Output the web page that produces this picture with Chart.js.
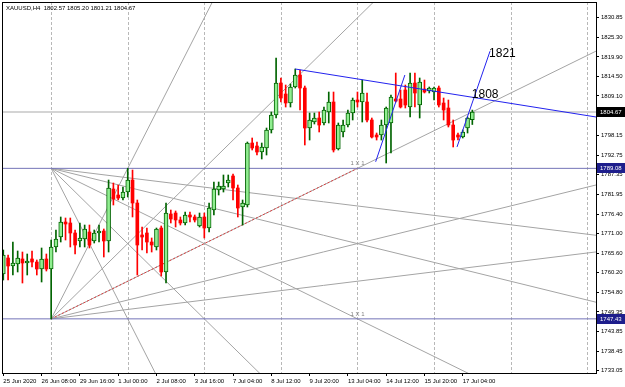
<!DOCTYPE html>
<html>
<head>
<meta charset="utf-8">
<script src="https://cdn.jsdelivr.net/npm/chart.js@4.4.1/dist/chart.umd.min.js"></script>
<style>
  html, body { margin: 0; padding: 0; background: #fff; }
</style>
</head>
<body>
<canvas id="chart" width="625" height="387"></canvas>
<script>
// XAUUSD H4, 25 Jun - 17 Jul 2020 (bar index 0 = 25 Jun 00:00)
const opens = [
  1759.84, 1764.27, 1762.06, 1762.61, 1764.00, 1762.89, 1764.00, 1763.16, 1761.23, 1764.00,
  1761.23, 1767.32, 1770.08, 1774.23, 1773.96, 1771.19, 1768.98, 1769.53, 1771.47, 1768.98,
  1771.19, 1771.74, 1768.98, 1783.36, 1781.70, 1780.87, 1782.53, 1785.85, 1779.49, 1770.64,
  1771.19, 1768.70, 1767.32, 1772.57, 1760.40, 1776.45, 1776.72, 1774.79, 1773.96, 1776.17,
  1775.62, 1773.13, 1775.62, 1772.57, 1777.55, 1783.09, 1783.36, 1785.02, 1786.96, 1783.64,
  1778.38, 1778.94, 1796.09, 1795.26, 1793.60, 1794.71, 1799.69, 1803.84, 1812.69, 1809.65,
  1807.16, 1811.59, 1814.91, 1811.31, 1800.24, 1801.90, 1803.01, 1801.63, 1804.67, 1807.44,
  1794.43, 1799.14, 1801.07, 1804.39, 1807.99, 1807.44, 1807.44, 1802.46, 1798.31, 1798.31,
  1801.07, 1801.63, 1808.27, 1808.27, 1810.76, 1806.05, 1812.69, 1806.61, 1811.03, 1810.48,
  1810.20, 1811.31, 1807.16, 1805.78, 1801.07, 1798.31, 1797.75, 1800.24, 1802.57
];
const highs = [
  1766.49, 1765.10, 1768.70, 1766.21, 1765.93, 1765.38, 1766.21, 1763.72, 1767.04, 1765.38,
  1769.25, 1772.02, 1775.62, 1775.34, 1775.34, 1772.02, 1773.96, 1773.40, 1773.40, 1772.02,
  1773.40, 1772.30, 1785.85, 1785.02, 1784.47, 1783.92, 1789.08, 1788.62, 1780.32, 1772.85,
  1772.57, 1769.81, 1772.57, 1773.13, 1779.49, 1777.55, 1777.28, 1775.62, 1777.00, 1777.00,
  1776.17, 1776.72, 1776.72, 1779.49, 1785.30, 1785.30, 1787.24, 1787.24, 1787.51, 1784.47,
  1780.32, 1796.37, 1797.48, 1796.37, 1796.09, 1800.24, 1804.67, 1819.61, 1814.08, 1812.14,
  1812.42, 1816.57, 1816.29, 1811.86, 1804.39, 1804.39, 1804.67, 1806.05, 1810.20, 1810.20,
  1801.63, 1802.46, 1805.22, 1808.54, 1810.20, 1813.52, 1809.93, 1803.01, 1798.86, 1802.46,
  1806.05, 1809.37, 1815.46, 1810.76, 1812.14, 1815.46, 1815.46, 1814.08, 1813.52, 1811.59,
  1811.59, 1811.86, 1808.54, 1807.99, 1802.46, 1798.86, 1799.69, 1803.29, 1805.20
];
const lows = [
  1758.18, 1758.18, 1759.57, 1760.40, 1757.35, 1759.57, 1761.78, 1759.57, 1757.63, 1760.67,
  1747.43, 1765.93, 1768.70, 1769.25, 1767.32, 1765.38, 1767.32, 1767.32, 1767.04, 1768.42,
  1768.70, 1764.55, 1765.93, 1778.94, 1780.32, 1780.32, 1781.15, 1775.62, 1759.57, 1766.49,
  1765.66, 1765.93, 1766.49, 1759.29, 1757.35, 1773.96, 1772.85, 1773.40, 1773.40, 1774.23,
  1774.23, 1772.85, 1769.81, 1771.47, 1776.17, 1781.70, 1782.53, 1783.92, 1780.32, 1775.62,
  1773.40, 1778.38, 1794.16, 1792.77, 1791.67, 1792.77, 1798.86, 1803.01, 1807.44, 1806.05,
  1806.05, 1811.31, 1805.22, 1795.54, 1796.92, 1801.35, 1799.14, 1801.07, 1801.63, 1793.60,
  1794.16, 1797.75, 1800.52, 1802.46, 1806.05, 1801.90, 1801.90, 1797.48, 1796.92, 1796.92,
  1790.56, 1793.33, 1807.44, 1805.78, 1805.78, 1803.29, 1806.05, 1803.01, 1809.93, 1809.93,
  1807.99, 1806.05, 1802.46, 1800.52, 1794.99, 1796.92, 1797.48, 1798.86, 1801.21
];
const closes = [
  1765.10, 1762.06, 1762.89, 1764.27, 1762.89, 1763.44, 1763.16, 1761.23, 1764.00, 1761.23,
  1767.32, 1769.53, 1774.23, 1773.68, 1771.19, 1767.87, 1769.81, 1772.30, 1767.87, 1771.19,
  1771.74, 1768.98, 1783.64, 1780.60, 1780.87, 1782.53, 1785.85, 1779.49, 1767.87, 1770.08,
  1768.70, 1767.87, 1772.30, 1760.40, 1776.72, 1775.06, 1774.79, 1773.96, 1776.17, 1775.62,
  1774.79, 1775.62, 1772.57, 1778.11, 1783.36, 1784.19, 1784.19, 1785.85, 1783.64, 1778.11,
  1779.49, 1796.09, 1794.71, 1793.60, 1794.99, 1799.69, 1803.84, 1812.69, 1808.54, 1807.16,
  1811.59, 1814.91, 1811.31, 1800.24, 1802.46, 1803.01, 1801.07, 1805.22, 1807.44, 1794.16,
  1801.07, 1801.07, 1804.39, 1807.99, 1807.44, 1809.93, 1802.46, 1797.75, 1797.75, 1801.07,
  1805.78, 1808.82, 1807.71, 1806.05, 1806.61, 1812.69, 1809.93, 1812.97, 1810.20, 1811.31,
  1811.31, 1806.61, 1805.22, 1801.07, 1796.92, 1797.75, 1799.14, 1803.01, 1804.67
];

const timeLabels = ["25 Jun 2020", "26 Jun 08:00", "29 Jun 16:00", "1 Jul 00:00", "2 Jul 08:00",
  "3 Jul 16:00", "7 Jul 04:00", "8 Jul 12:00", "9 Jul 20:00", "13 Jul 04:00", "14 Jul 12:00",
  "15 Jul 20:00", "17 Jul 04:00"];
const timeLabelBars = [0, 8, 16, 24, 32, 40, 48, 56, 64, 72, 80, 88, 96];
const gridBars = [10, 26, 42, 58, 74, 90, 106, 122];
const priceTicks = [1830.85, 1825.30, 1819.90, 1814.50, 1809.10, 1803.70, 1798.15, 1792.75,
  1787.35, 1781.95, 1776.40, 1771.00, 1765.60, 1760.20, 1754.80, 1749.35, 1743.85, 1738.45, 1733.05];

const levelHigh = 1789.08;
const levelLow = 1747.43;
const lastPrice = 1804.67;

// gann fans: [bar, price] of the two anchors, 1x1 goes through both
const fanUp = [[10, 1747.43], [74, 1789.08]];
const fanDown = [[10, 1789.08], [74, 1747.43]];
const gannRatios = [1 / 4, 1 / 2, 1, 2, 4];

// blue hand drawn lines
const trendLine = [[61, 1816.57], [123.84, 1803.29]];
const stepLine1 = [[77.8, 1790.9], [83.9, 1814.9]];
const stepLine2 = [[94.8, 1795.0], [101.7, 1821.5]];

const notes = [
  { text: "1821", bar: 101.5, price: 1820.7 },
  { text: "1808", bar: 97.9, price: 1809.4 }
];

const xMin = -0.272, xMax = 123.84;
const font = '"Liberation Sans", Arial, sans-serif';

let lineDs = (pts, color, width, order, dash) => ({
  type: "line",
  data: pts.map(([x, y]) => ({ x, y })),
  borderColor: color,
  borderWidth: width,
  borderDash: dash || [],
  pointRadius: 0,
  tension: 0,
  fill: false,
  order
});

let isUp = (i) => closes[i] >= opens[i];

let bullBodies = [], bearBodies = [], wicks = [];
opens.forEach((o, i) => {
  wicks.push({ x: i, y: [lows[i], highs[i]] });
  (isUp(i) ? bullBodies : bearBodies).push({ x: i, y: [o, closes[i]] });
});

let datasets = [];

[fanUp, fanDown].forEach((anchors) => {
  const [[b0, p0], [b1, p1]] = anchors;
  const k = (p1 - p0) / (b1 - b0);
  gannRatios.forEach((r) => {
    datasets.push(lineDs([[b0, p0], [xMax, p0 + k * r * (xMax - b0)]], "#a4a4a4", 1, 10));
  });
});
datasets.push(lineDs(fanUp, "#e03c3c", 1, 9, [2, 2]));

datasets.push(lineDs([[xMin, lastPrice], [xMax, lastPrice]], "#d4d4d4", 2, 11));
datasets.push(lineDs([[xMin, levelHigh], [xMax, levelHigh]], "#7474b8", 1, 8));
datasets.push(lineDs([[xMin, levelLow], [xMax, levelLow]], "#7474b8", 1, 8));

datasets.push({
  type: "bar", data: wicks, barThickness: 1, grouped: false, order: 6,
  backgroundColor: (ctx) => isUp(ctx.dataIndex) ? "#006400" : "#ff0000",
  borderWidth: 0
});
datasets.push({
  type: "bar", data: bearBodies, barThickness: 3, grouped: false, order: 5,
  backgroundColor: "#ff0000", borderWidth: 0
});
datasets.push({
  type: "bar", data: bullBodies, barThickness: 4, grouped: false, order: 5,
  backgroundColor: "#90ee90", borderColor: "#006400", borderWidth: 1, borderSkipped: false
});

datasets.push(lineDs(trendLine, "#2222ee", 1, 1));
datasets.push(lineDs(stepLine1, "#2222ee", 1, 1));
datasets.push(lineDs(stepLine2, "#2222ee", 1, 1));

const mt4 = {
  id: "mt4",
  beforeDatasetsDraw(chart) {
    const { ctx, chartArea: a, scales: { x } } = chart;
    ctx.save();
    ctx.strokeStyle = "#b8b8b8";
    ctx.lineWidth = 1;
    ctx.setLineDash([3, 2]);
    gridBars.forEach((b) => {
      const px = Math.round(x.getPixelForValue(b)) + 0.5;
      ctx.beginPath();
      ctx.moveTo(px, a.top);
      ctx.lineTo(px, a.bottom);
      ctx.stroke();
    });
    ctx.restore();
  },
  afterDraw(chart) {
    const { ctx, chartArea: a, scales: { x, y } } = chart;
    ctx.save();
    ctx.strokeStyle = "#000";
    ctx.lineWidth = 1;
    ctx.strokeRect(a.left + 0.5, a.top + 0.5, a.right - a.left, a.bottom - a.top);

    ctx.fillStyle = "#000";
    ctx.font = "6px " + font;
    ctx.textBaseline = "middle";
    ctx.textAlign = "left";
    const last = opens.length - 1;
    ctx.fillText(`XAUUSD,H4  ${opens[last].toFixed(2)} ${highs[last].toFixed(2)} ${lows[last].toFixed(2)} ${closes[last].toFixed(2)}`, a.left + 4, a.top + 6);

    // 1x1 marks at the second fan anchors
    ctx.fillStyle = "#808080";
    ctx.font = "6px " + font;
    ctx.textAlign = "center";
    ctx.textBaseline = "bottom";
    [fanUp[1], fanDown[1]].forEach(([b, p]) => {
      ctx.fillText("1 X 1", x.getPixelForValue(b), y.getPixelForValue(p) - 2);
    });

    ctx.fillStyle = "#000";
    ctx.font = "12px " + font;
    ctx.textAlign = "left";
    ctx.textBaseline = "middle";
    notes.forEach((n) => ctx.fillText(n.text, x.getPixelForValue(n.bar), y.getPixelForValue(n.price)));

    // price marks on the scale
    ctx.font = "6px " + font;
    [[lastPrice, "#000000"], [levelHigh, "#1e1e8c"], [levelLow, "#1e1e8c"]].forEach(([p, bg]) => {
      const py = Math.round(y.getPixelForValue(p));
      ctx.fillStyle = bg;
      ctx.fillRect(a.right + 1, py - 5, 28, 10);
      ctx.fillStyle = "#fff";
      ctx.fillText(p.toFixed(2), a.right + 4, py);
    });
    ctx.restore();
  }
};

new Chart(document.getElementById("chart"), {
  type: "bar",
  data: { datasets },
  options: {
    responsive: false,
    devicePixelRatio: 1,
    animation: false,
    layout: { padding: { left: 2, top: 2, right: 0, bottom: 0 } },
    plugins: { legend: { display: false }, tooltip: { enabled: false } },
    scales: {
      x: {
        type: "linear", min: xMin, max: xMax, offset: false,
        afterBuildTicks: (s) => { s.ticks = timeLabelBars.map((v) => ({ value: v })); },
        afterFit: (s) => { s.height = 14; s.paddingLeft = 0; s.paddingRight = 0; },
        ticks: {
          autoSkip: false, maxRotation: 0, align: "start", padding: 2, color: "#000",
          font: { family: font, size: 6 },
          callback: (v, i) => timeLabels[i]
        },
        grid: { offset: false, drawOnChartArea: false, tickLength: 3, color: "#000" },
        border: { color: "#000" }
      },
      y: {
        type: "linear", position: "right", min: 1732.45, max: 1835.11, beginAtZero: false,
        afterBuildTicks: (s) => { s.ticks = priceTicks.map((v) => ({ value: v })); },
        afterFit: (s) => { s.width = 29; s.paddingTop = 0; s.paddingBottom = 0; },
        ticks: {
          padding: 2, color: "#000", font: { family: font, size: 6 },
          callback: (v) => v.toFixed(2)
        },
        grid: { drawOnChartArea: false, tickLength: 3, color: "#000" },
        border: { color: "#000" }
      }
    }
  },
  plugins: [mt4]
});
</script>
</body>
</html>
